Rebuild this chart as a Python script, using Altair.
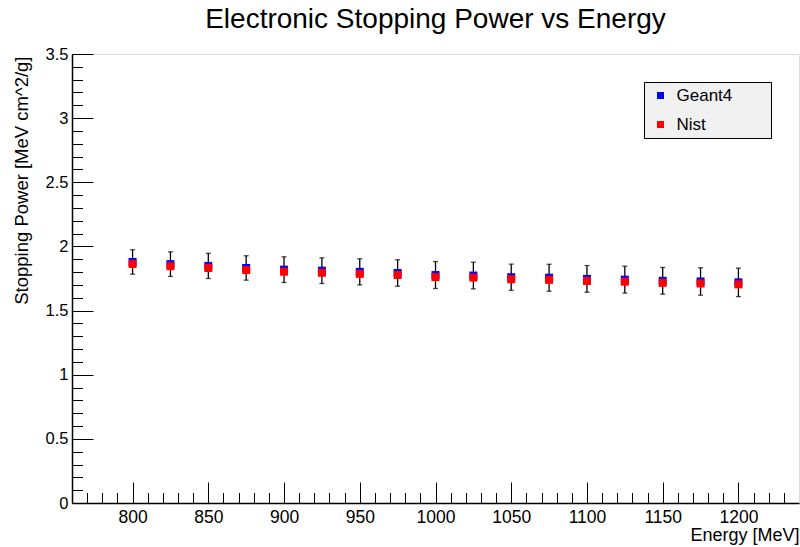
import altair as alt
import pandas as pd

# ---- data ----
energy = [800, 825, 850, 875, 900, 925, 950, 975, 1000, 1025, 1050, 1075, 1100, 1125, 1150, 1175, 1200]
geant4 = [1.879, 1.862, 1.848, 1.832, 1.819, 1.811, 1.802, 1.793, 1.777, 1.773, 1.760, 1.756, 1.747, 1.741, 1.732, 1.727, 1.720]
nist = [1.863, 1.846, 1.832, 1.816, 1.803, 1.795, 1.786, 1.777, 1.761, 1.757, 1.744, 1.740, 1.731, 1.725, 1.716, 1.711, 1.704]
err = [0.095, 0.096, 0.098, 0.095, 0.100, 0.100, 0.102, 0.103, 0.105, 0.104, 0.102, 0.105, 0.104, 0.105, 0.104, 0.107, 0.111]
series_names = ["Geant4", "Nist"]
series_colors = ["#0000ff", "#ff0000"]

x_major = [800, 850, 900, 950, 1000, 1050, 1100, 1150, 1200]
x_minor = list(range(770, 1240, 10))
y_major = [0, 0.5, 1, 1.5, 2, 2.5, 3, 3.5]
y_minor = [round(i * 0.1, 1) for i in range(0, 36)]

title_text = "Electronic Stopping Power vs Energy"
x_title = "Energy [MeV]"
y_title = "Stopping Power [MeV cm^2/g]"

# ---- tables ----
df = pd.DataFrame({"energy": energy, "geant4": geant4, "err": err})
df["lo"] = df["geant4"] - df["err"]
df["hi"] = df["geant4"] + df["err"]

pts = pd.concat([
    pd.DataFrame({"energy": energy, "value": geant4, "series": series_names[0]}),
    pd.DataFrame({"energy": energy, "value": nist, "series": series_names[1]}),
], ignore_index=True)

title_df = pd.DataFrame({"t": [title_text]})

W, H = 727, 449
FONT = "Liberation Sans"

xs = alt.Scale(domain=[760, 1240], nice=False, zero=False)
ys = alt.Scale(domain=[0, 3.5], nice=False, zero=False)

common = dict(grid=False, labelFont=FONT, titleFont=FONT, labelColor="black", titleColor="black",
              tickColor="black", tickWidth=1)

x_lab = alt.Axis(orient="bottom", values=x_major, format="d", labelFontSize=17.5, labelPadding=5.5,
                 ticks=False, tickSize=0, domain=True, domainColor="black", domainWidth=1.5,
                 labelFlush=False,
                 title=x_title, titleFontSize=18, titleFontWeight="normal",
                 titleX=W, titleY=37, titleAlign="right", titleBaseline="alphabetic", titleAnchor="end",
                 **common)
y_lab = alt.Axis(orient="left", values=y_major, format="~g", labelFontSize=16.5, labelPadding=4,
                 ticks=False, tickSize=0, domain=True, domainColor="black", domainWidth=1.5,
                 title=y_title, titleFontSize=18.5, titleFontWeight="normal", titleAngle=270,
                 titleX=-45, titleY=2, titleAlign="right", titleBaseline="alphabetic", titleAnchor="end",
                 **common)
x_maj = alt.Axis(orient="top", offset=-H, values=x_major, tickSize=21, labels=False, domain=False,
                 title=None, **common)
x_min = alt.Axis(orient="top", offset=-H, values=x_minor, tickSize=10.5, labels=False, domain=False,
                 title=None, **common)
y_maj = alt.Axis(orient="right", offset=-W, values=y_major, tickSize=21, labels=False, domain=False,
                 title=None, **common)
y_min = alt.Axis(orient="right", offset=-W, values=y_minor, tickSize=10.5, labels=False, domain=False,
                 title=None, **common)

err_rule = alt.Chart(df).mark_rule(color="black", strokeWidth=1.3).encode(
    x=alt.X("energy:Q", scale=xs, axis=x_lab),
    y=alt.Y("lo:Q", scale=ys, axis=y_lab),
    y2="hi:Q",
)
cap_hi = alt.Chart(df).mark_tick(color="black", orient="horizontal", size=5, thickness=1.3).encode(
    x=alt.X("energy:Q", scale=xs, axis=x_maj),
    y=alt.Y("hi:Q", scale=ys, axis=y_maj),
)
cap_lo = alt.Chart(df).mark_tick(color="black", orient="horizontal", size=5, thickness=1.3).encode(
    x=alt.X("energy:Q", scale=xs, axis=x_min),
    y=alt.Y("lo:Q", scale=ys, axis=y_min),
)
points = alt.Chart(pts).mark_square(size=64, opacity=1, filled=True).encode(
    x=alt.X("energy:Q", scale=xs, axis=None),
    y=alt.Y("value:Q", scale=ys, axis=None),
    color=alt.Color(
        "series:N",
        scale=alt.Scale(domain=series_names, range=series_colors),
        legend=alt.Legend(
            orient="none", legendX=572, legendY=28,
            title="\u2003\u2003", titleOrient="right", titlePadding=34, titleFontSize=24.6,
            fillColor="#f0f0f0", strokeColor="black", padding=5,
            symbolType="square", symbolSize=49, symbolStrokeWidth=0, symbolOpacity=1,
            symbolOffset=3, labelOffset=7.5, labelFontSize=17, labelFont=FONT, labelColor="black",
            rowPadding=11,
        ),
    ),
)
title_layer = alt.Chart(title_df).mark_text(
    font=FONT, fontSize=28, align="center", baseline="alphabetic", color="black"
).encode(
    x=alt.value(W / 2),
    y=alt.value(-26),
    text="t:N",
)

chart = alt.layer(err_rule, cap_hi, cap_lo, points, title_layer).resolve_axis(
    x="independent", y="independent"
).properties(
    width=W, height=H,
    padding={"left": 72, "top": 54, "right": 1, "bottom": 44},
    autosize=alt.AutoSizeParams(type="none"),
).configure_view(stroke="black", strokeWidth=1.3).configure(background="white")

chart.save("out.html", embed_options={"renderer": "svg", "actions": False})
